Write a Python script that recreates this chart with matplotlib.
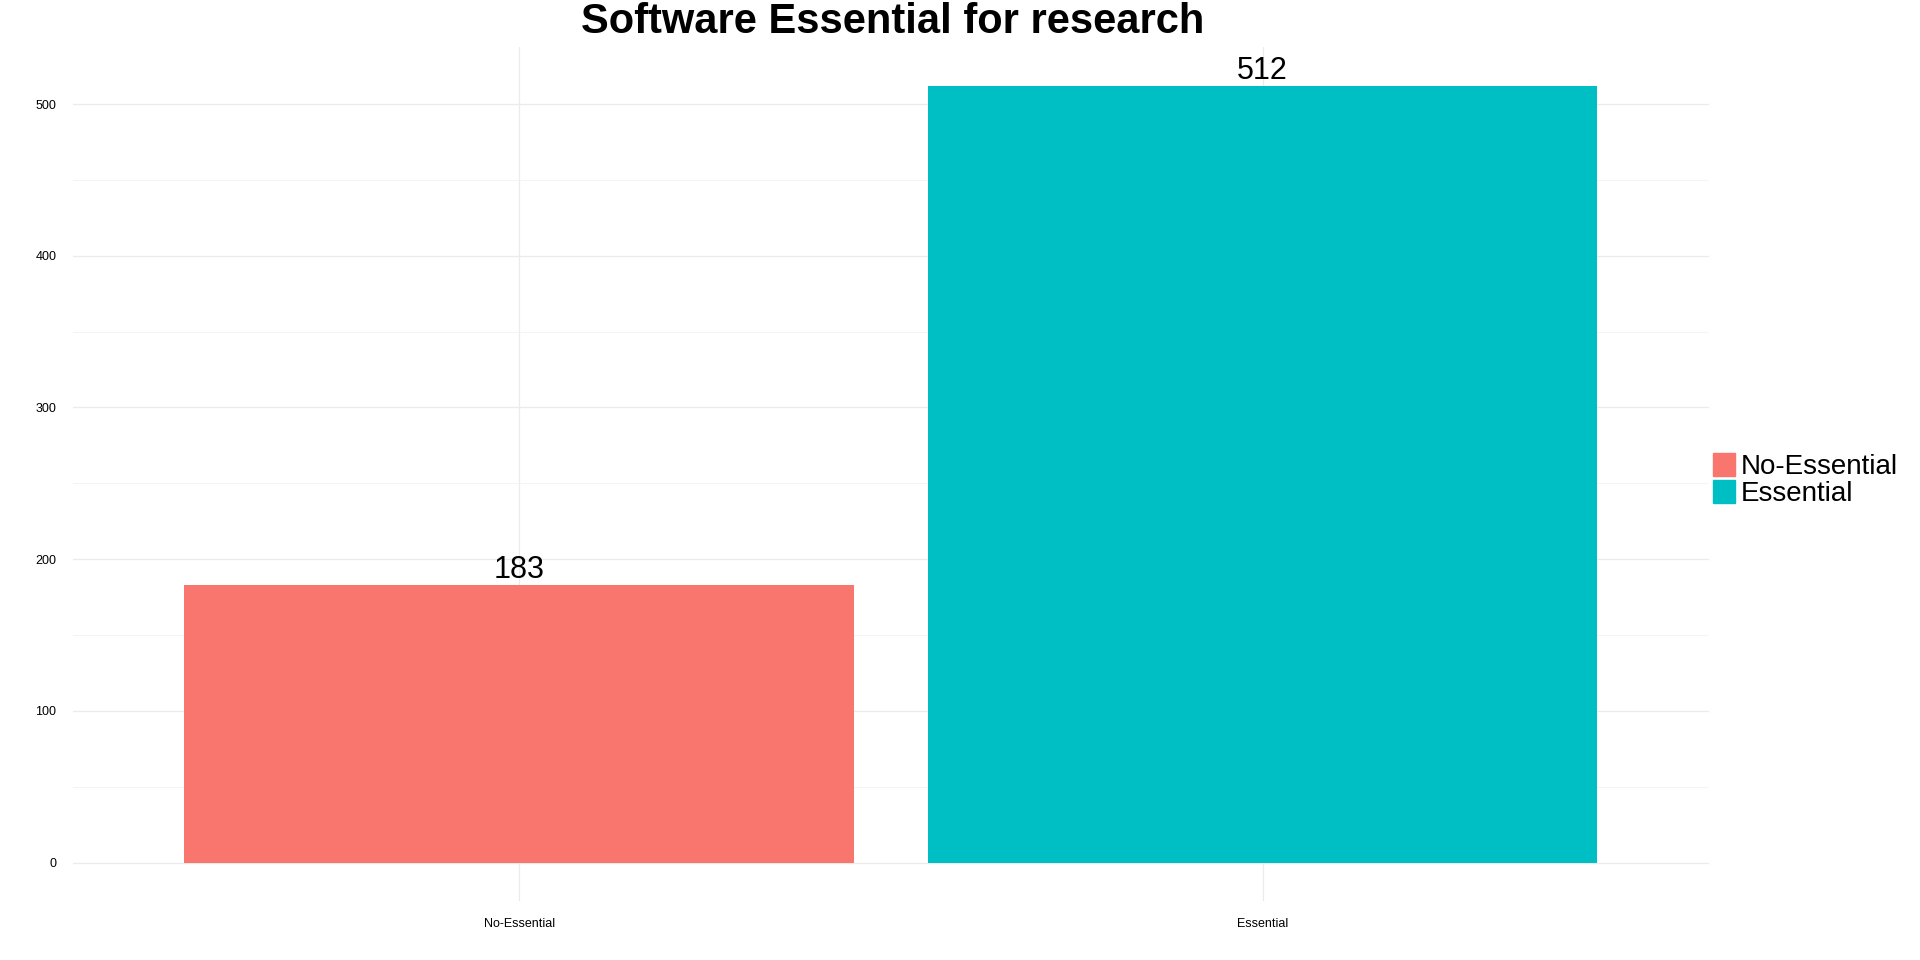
import matplotlib.pyplot as plt
from matplotlib.patches import Patch

plt.rcParams["font.family"] = ["Liberation Sans", "DejaVu Sans"]

categories = ["No-Essential", "Essential"]
counts = [183, 512]
colors = ["#F8766D", "#00BFC4"]

fig = plt.figure(figsize=(19.2, 9.6), dpi=100)
ax = fig.add_axes([0.038, 0.061, 0.852, 0.89])
pos = [1, 2]
ax.bar(pos, counts, width=0.9, color=colors, zorder=2)
for x, v in zip(pos, counts):
    ax.text(x, v, str(v), ha="center", va="bottom", fontsize=22, zorder=3)

ax.set_xlim(0.4, 2.6)
ax.set_ylim(-25.6, 537.6)
ax.set_xticks(pos)
ax.set_xticklabels(categories)
ax.set_yticks(range(0, 501, 100))
ax.set_yticks(range(50, 501, 100), minor=True)
ax.tick_params(axis="both", length=0, labelsize=9, pad=12)
ax.tick_params(axis="y", which="minor", length=0)
ax.grid(True, which="major", color="#EBEBEB", linewidth=0.9, zorder=0)
ax.grid(True, which="minor", axis="y", color="#F3F3F3", linewidth=0.6, zorder=0)
for s in ax.spines.values():
    s.set_visible(False)

fig.suptitle("Software Essential for research", fontsize=30, fontweight="bold", x=0.465, y=0.998)

handles = [Patch(color=c, label=l) for c, l in zip(colors, categories)]
fig.legend(handles=handles, loc="center left", bbox_to_anchor=(0.892, 0.5), frameon=False,
           fontsize=20, handlelength=0.8, handleheight=0.9, handletextpad=0.2,
           labelspacing=0.0, borderaxespad=0.0, borderpad=0.0)

fig.savefig("out.png", dpi=100, facecolor="white")
